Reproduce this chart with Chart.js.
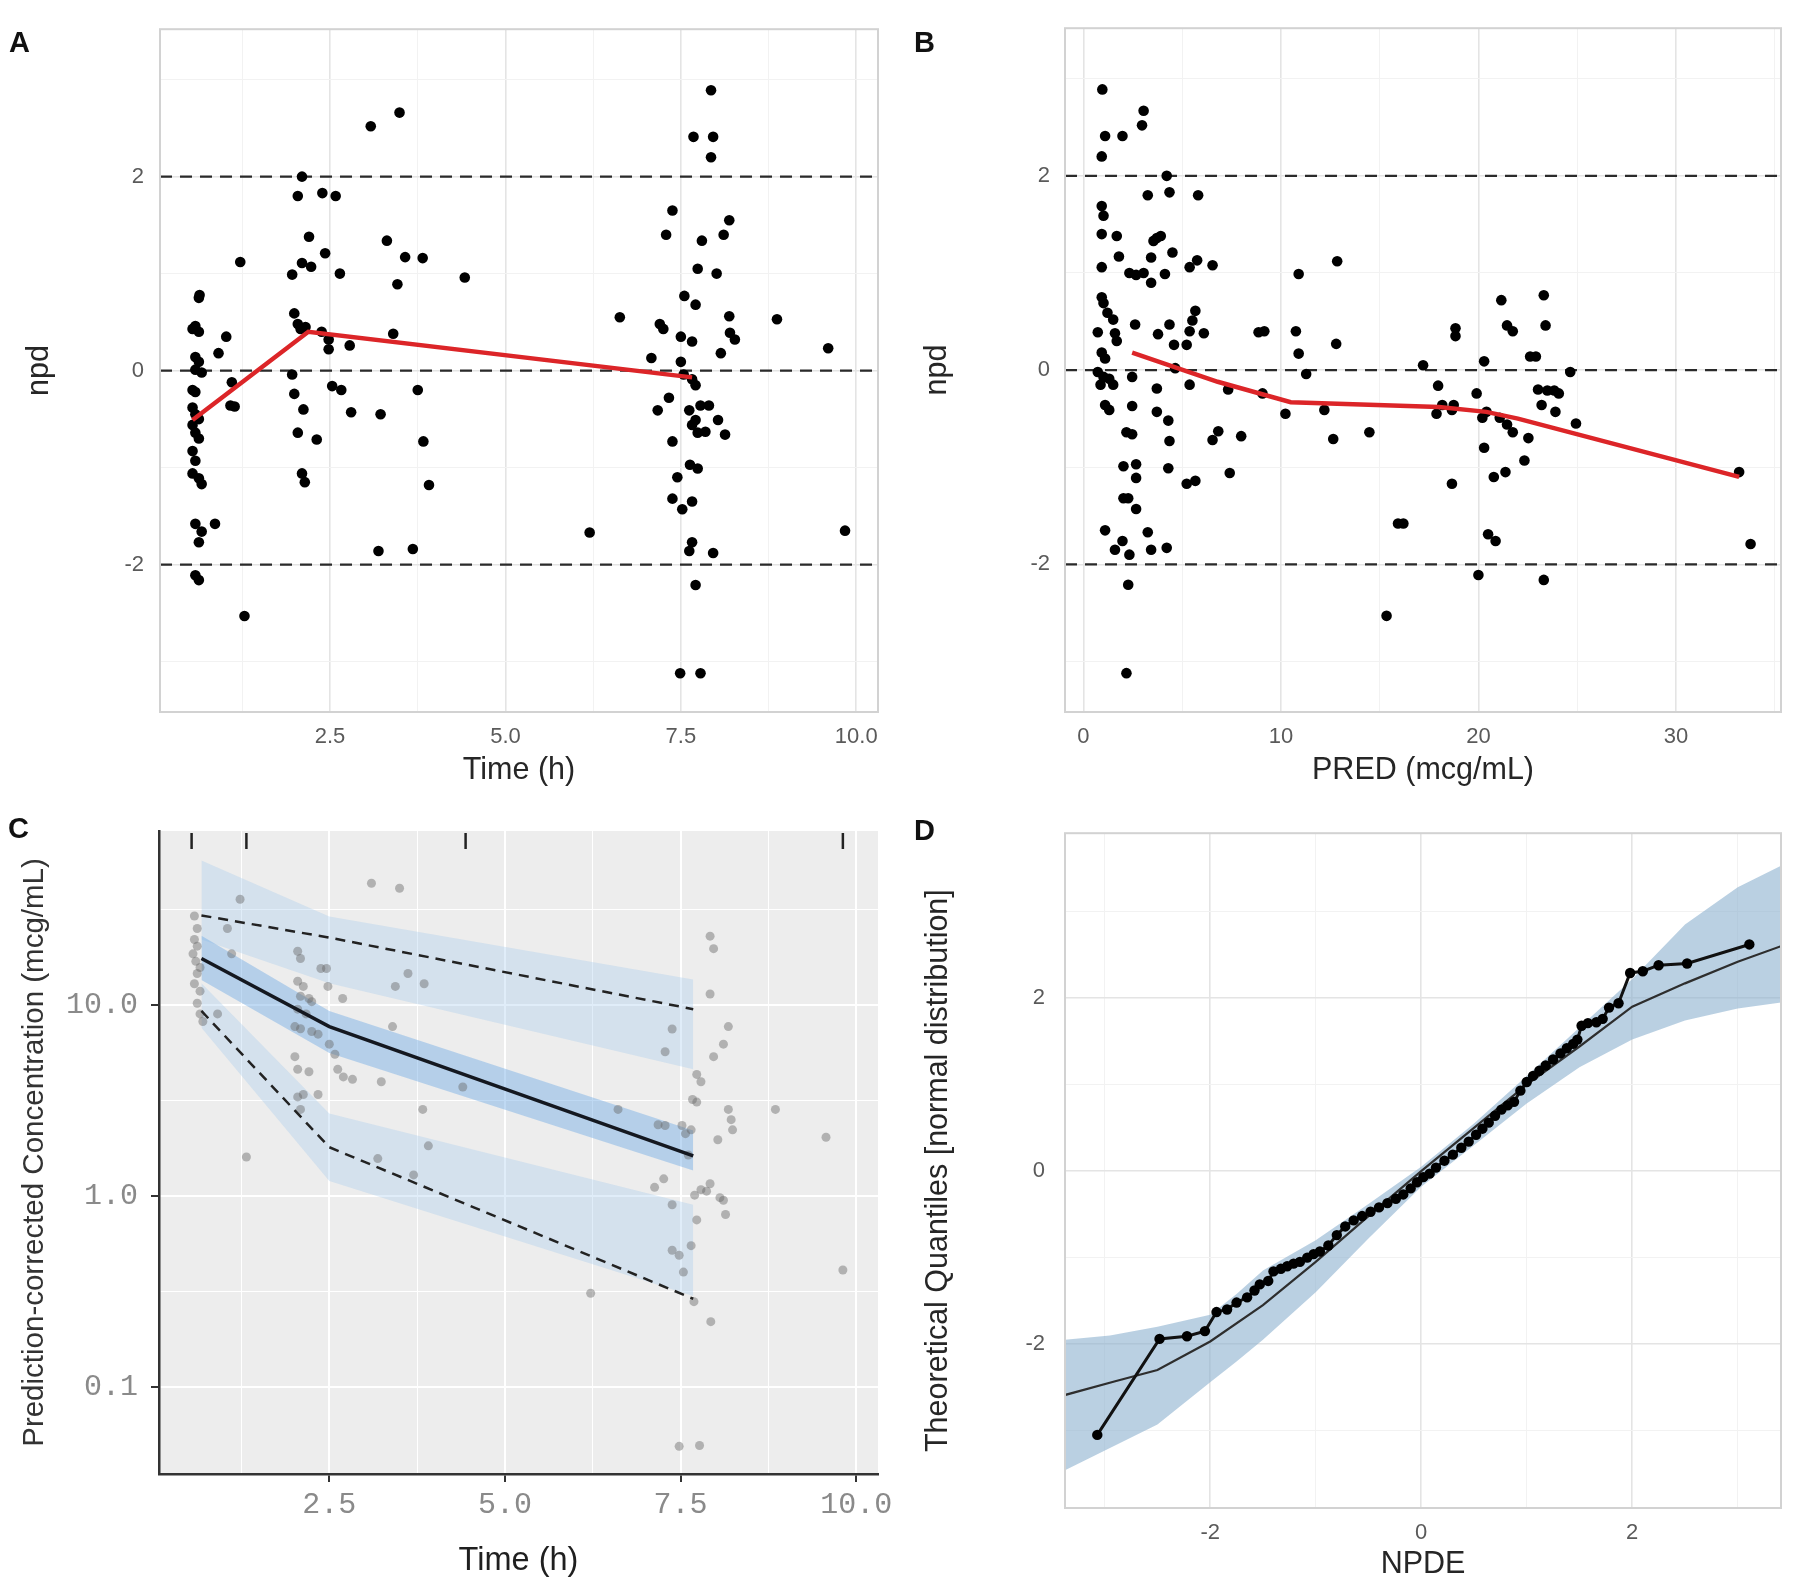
<!DOCTYPE html>
<html>
<head>
<meta charset="utf-8">
<script src="https://cdn.jsdelivr.net/npm/chart.js@4.4.1/dist/chart.umd.min.js"></script>
<style>
  html, body { margin: 0; padding: 0; background: #fff; }
  #page { position: relative; width: 1800px; height: 1596px; overflow: hidden; }
  #page canvas { position: absolute; }
  .tag { position: absolute; font: bold 29px "Liberation Sans", Arial, sans-serif; color: #111; line-height: 29px; }
</style>
</head>
<body>
<div id="page">
  <canvas id="chartA" width="900" height="800" style="left:0;top:0"></canvas>
  <canvas id="chartB" width="900" height="800" style="left:900px;top:0"></canvas>
  <canvas id="chartC" width="900" height="796" style="left:0;top:800px"></canvas>
  <canvas id="chartD" width="900" height="796" style="left:900px;top:800px"></canvas>
  <div class="tag" style="left:9px;top:28px">A</div>
  <div class="tag" style="left:914px;top:28px">B</div>
  <div class="tag" style="left:8px;top:814px">C</div>
  <div class="tag" style="left:914px;top:816px">D</div>
</div>
<script>
// ---- panel A: npd vs time ----
var timeA = [
  0.63,0.64,0.58,0.54,0.63,0.58,0.63,0.58,0.67,0.54,
  0.58,0.54,0.58,0.63,0.54,0.58,0.63,0.54,0.58,0.54,
  0.63,0.67,0.58,0.86,0.67,0.63,0.58,0.63,0.91,1.02,
  1.10,1.08,1.14,1.22,1.28,2.10,2.04,2.39,2.58,2.20,
  2.43,2.10,2.23,1.96,2.64,1.99,2.04,2.08,2.15,2.38,
  2.48,2.48,2.78,1.96,1.99,2.12,2.04,2.31,2.53,2.66,
  2.80,2.10,2.14,3.08,3.49,3.31,3.57,3.82,3.46,3.40,
  3.22,3.75,3.83,3.91,3.19,3.68,4.42,6.20,6.63,7.93,
  7.68,7.96,7.93,7.38,7.29,7.80,8.11,8.19,7.74,8.01,
  7.55,7.71,7.20,7.25,8.19,8.20,8.27,7.50,7.66,8.07,
  8.87,9.60,7.08,7.50,7.54,7.66,7.71,7.33,7.17,7.62,
  7.78,7.90,7.71,7.66,7.74,8.03,8.13,7.85,7.38,7.63,
  7.74,7.45,7.38,7.66,7.52,7.66,7.62,7.96,7.71,7.49,
  7.78,9.84
];
var npdA = [
  0.75,0.78,0.46,0.43,0.40,0.14,0.09,0.01,-0.02,-0.20,
  -0.22,-0.38,-0.45,-0.50,-0.56,-0.64,-0.70,-0.83,-0.93,-1.06,
  -1.11,-1.17,-1.58,-1.58,-1.66,-1.77,-2.11,-2.16,0.18,0.35,
  -0.12,-0.36,-0.37,1.12,-2.53,2.00,1.80,1.83,1.80,1.38,
  1.21,1.11,1.07,0.99,1.00,0.59,0.48,0.43,0.45,0.40,
  0.32,0.22,0.26,-0.04,-0.24,-0.40,-0.64,-0.71,-0.16,-0.20,
  -0.43,-1.06,-1.15,2.52,2.66,1.34,1.17,1.16,0.89,0.38,
  -0.45,-0.20,-0.73,-1.18,-1.86,-1.84,0.96,-1.67,0.55,2.89,
  2.41,2.41,2.20,1.65,1.40,1.34,1.40,1.55,1.05,1.00,
  0.77,0.68,0.48,0.43,0.56,0.39,0.32,0.35,0.30,0.18,
  0.53,0.23,0.13,0.09,-0.04,-0.09,-0.15,-0.28,-0.41,-0.41,
  -0.36,-0.36,-0.51,-0.56,-0.64,-0.51,-0.66,-0.63,-0.73,-0.97,
  -1.01,-1.10,-1.32,-1.35,-1.43,-1.77,-1.86,-1.88,-2.21,-3.12,
  -3.12,-1.65
];
var trendTimeA = [0.54, 2.19, 7.66];
var trendNpdA = [-0.51, 0.40, -0.07];

// ---- panel B: npd vs PRED ----
var predB = [
  0.96,1.10,1.98,0.93,3.05,2.97,4.22,4.36,3.26,5.81,
  0.93,1.02,0.93,1.69,3.72,3.92,3.55,1.80,4.51,5.76,
  6.54,3.43,0.93,2.33,2.67,3.05,4.13,5.38,3.43,10.90,
  12.85,0.93,1.02,1.22,1.51,0.73,1.60,1.69,2.62,3.78,
  4.36,5.67,5.52,5.38,6.10,4.59,5.23,0.93,1.10,0.73,
  1.02,1.31,1.51,1.10,1.31,0.87,2.47,3.72,5.38,4.65,
  7.33,8.87,9.16,9.07,10.76,10.90,11.28,10.23,12.20,12.80,
  12.65,14.48,15.93,16.20,15.35,2.47,2.18,2.47,2.03,2.67,
  2.67,2.03,2.67,2.27,1.10,1.98,1.60,2.33,2.27,2.18,
  3.26,3.43,4.22,3.72,4.30,4.36,4.30,5.23,5.67,6.54,
  6.83,7.99,7.41,17.20,17.96,18.17,17.88,18.75,18.66,18.84,
  18.84,18.66,19.91,20.29,20.20,20.41,20.29,20.49,20.87,20.00,
  20.78,21.37,21.16,21.45,21.74,21.08,21.45,21.74,22.53,22.33,
  22.62,22.91,23.31,23.40,23.02,23.49,23.84,24.07,23.20,23.90,
  24.65,24.94,23.31,33.20,33.78
];
var npdB = [
  2.89,2.41,2.41,2.20,2.67,2.52,2.00,1.83,1.80,1.80,
  1.69,1.59,1.40,1.38,1.36,1.38,1.33,1.17,1.21,1.13,
  1.08,1.16,1.06,1.00,0.98,1.00,0.99,1.06,0.90,0.99,
  1.12,0.75,0.69,0.59,0.52,0.39,0.38,0.30,0.47,0.37,
  0.47,0.61,0.51,0.40,0.38,0.26,0.26,0.18,0.12,-0.02,
  -0.07,-0.09,-0.15,-0.36,-0.41,-0.15,-0.07,-0.19,-0.15,0.02,
  -0.20,0.39,0.40,-0.24,0.40,0.17,-0.04,-0.45,-0.41,0.27,
  -0.71,-0.64,-1.58,-1.58,-2.53,-0.37,-0.64,-0.66,-0.99,-0.97,
  -1.11,-1.32,-1.43,-1.32,-1.65,-1.76,-1.85,-1.90,-2.21,-3.12,
  -1.67,-1.85,-1.83,-0.43,-0.52,-0.73,-1.01,-1.17,-1.14,-0.72,
  -0.63,-0.68,-1.06,0.05,-0.16,-0.36,-0.45,-0.36,-0.41,0.43,
  0.35,-1.17,-0.24,0.09,-0.49,-0.43,-0.80,-1.69,-1.76,-2.11,
  -1.10,-1.05,0.72,0.46,0.40,-0.49,-0.56,-0.64,-0.70,-0.93,
  0.14,0.14,0.77,0.46,-0.20,-0.21,-0.21,-0.24,-0.36,-0.43,
  -0.02,-0.55,-2.16,-1.05,-1.79
];
var trendPredB = [2.47, 6.8, 10.5, 18.0, 20.4, 22.0, 33.2];
var trendNpdB = [0.18, -0.12, -0.33, -0.38, -0.43, -0.50, -1.10];

var refLevels = [-2, 0, 2];
var npdTicks = [-2, 0, 2];
var npdMinor = [-3, -1, 1, 3];
var timeTicks = [2.5, 5.0, 7.5, 10.0];
var timeMinor = [1.25, 3.75, 6.25, 8.75];
var predTicks = [0, 10, 20, 30];
var predMinor = [5, 15, 25, 35];

// ---- panel C: pcVPC ----
var binEdges = [0.54, 1.32, 4.44, 9.81];
var obsTime = [
  0.58,0.62,0.58,0.62,0.56,0.60,0.66,0.62,0.58,0.66,
  0.62,0.66,0.70,0.91,1.05,1.11,1.23,1.32,2.05,2.09,
  2.05,2.13,2.09,2.21,2.05,2.25,2.17,2.01,2.09,2.25,
  2.34,2.01,2.05,2.21,2.05,2.13,2.34,2.09,2.38,2.46,
  2.48,2.50,2.58,2.69,2.62,2.70,2.83,3.24,3.19,3.10,
  3.50,3.44,3.40,3.62,3.85,3.83,3.91,3.70,4.40,6.22,
  6.61,7.18,7.28,7.38,7.28,7.13,7.26,7.38,7.38,7.48,
  7.54,7.52,7.57,7.65,7.61,7.67,7.73,7.79,7.79,7.70,
  7.87,7.92,7.73,7.65,7.69,7.93,7.92,7.97,7.92,8.18,
  8.11,7.97,8.18,8.22,8.24,8.03,8.06,8.11,8.14,8.85,
  9.57,9.81,7.48,7.77,7.73
];
var obsConc = [
  29.2,25.1,22.0,20.3,18.5,16.9,15.7,14.6,12.9,11.8,
  10.2,8.97,8.19,8.97,25.1,18.5,35.7,1.6,19.1,17.5,
  13.3,12.5,11.1,10.8,9.5,10.4,8.97,7.7,7.5,7.26,
  7.03,5.36,4.6,4.47,3.3,3.4,3.4,2.84,15.5,15.5,
  12.5,6.23,5.52,10.8,4.6,4.2,4.08,3.96,1.57,43.3,
  40.8,12.5,7.7,14.6,12.9,2.84,1.83,1.29,3.72,0.31,
  2.84,2.36,2.34,7.48,5.69,1.11,1.23,0.9,0.52,0.49,
  0.40,2.34,2.12,2.22,1.64,3.2,4.33,3.96,1.08,1.01,
  1.06,1.16,0.75,0.55,0.28,0.22,22.9,19.7,11.4,7.7,
  6.23,5.36,2.84,2.51,2.22,1.97,0.98,0.95,0.80,2.84,
  2.03,0.41,0.049,0.0495,3.1
];
var binTime = [0.68, 2.5, 7.68];
var piUpLo = [22, 13, 4.6];
var piUpHi = [57, 29, 13.6];
var piMedLo = [13.5, 5.6, 1.36];
var piMedHi = [23, 9.3, 2.2];
var piLowLo = [7.6, 1.2, 0.3];
var piLowHi = [13, 2.7, 0.9];
var obsP05 = [9.3, 1.8, 0.29];
var obsP50 = [17.5, 7.7, 1.62];
var obsP95 = [29.4, 22.5, 9.5];
var concTicks = [0.1, 1, 10];
var concTickLabels = ['0.1', '1.0', '10.0'];
var concMinor = [0.316, 3.16, 31.6];

// ---- panel D: QQ plot of NPDE ----
var qqNpde = [
  -3.07,-2.48,-2.22,-2.05,-1.94,-1.84,-1.75,-1.65,-1.58,-1.53,
  -1.45,-1.40,-1.33,-1.27,-1.21,-1.15,-1.08,-1.02,-0.96,-0.88,
  -0.80,-0.72,-0.64,-0.56,-0.48,-0.40,-0.32,-0.24,-0.17,-0.10,
  -0.04,0.02,0.08,0.14,0.22,0.30,0.38,0.45,0.52,0.58,
  0.64,0.70,0.76,0.82,0.88,0.94,1.00,1.06,1.12,1.18,
  1.25,1.32,1.38,1.44,1.48,1.52,1.58,1.66,1.72,1.78,
  1.87,1.98,2.10,2.25,2.52,3.11
];
var qqTheo = [
  -3.05,-1.94,-1.91,-1.85,-1.63,-1.60,-1.52,-1.46,-1.38,-1.31,
  -1.27,-1.16,-1.13,-1.10,-1.07,-1.05,-1.00,-0.96,-0.93,-0.86,
  -0.74,-0.64,-0.57,-0.52,-0.47,-0.42,-0.37,-0.32,-0.27,-0.20,
  -0.13,-0.07,-0.03,0.04,0.12,0.19,0.27,0.34,0.42,0.49,
  0.56,0.64,0.71,0.76,0.80,0.93,1.03,1.10,1.16,1.22,
  1.29,1.36,1.42,1.47,1.52,1.68,1.71,1.72,1.76,1.89,
  1.94,2.29,2.31,2.38,2.40,2.62
];
var refNpde = [-3.38,-2.9,-2.5,-2.0,-1.5,-1.0,-0.5,0,0.5,1.0,1.5,2.0,2.5,3.0,3.41];
var refTheo = [-2.59,-2.43,-2.30,-1.97,-1.55,-1.05,-0.52,0,0.5,1.0,1.44,1.90,2.17,2.42,2.60];
var bandNpde = [-3.38,-2.95,-2.5,-2.0,-1.75,-1.5,-1.0,-0.5,0,0.5,1.0,1.5,2.0,2.5,3.0,3.41];
var bandLo = [-3.46,-3.2,-2.93,-2.44,-2.2,-1.95,-1.4,-0.78,-0.18,0.3,0.78,1.2,1.52,1.74,1.88,1.95];
var bandHi = [-1.95,-1.9,-1.8,-1.66,-1.42,-1.15,-0.8,-0.38,0.05,0.55,1.1,1.66,2.22,2.85,3.28,3.53];
var quantTicks = [-2, 0, 2];
var quantMinor = [-3, -1, 1, 3];

var FONT = '"Liberation Sans", Arial, sans-serif';
var MONO = '"Liberation Mono", "DejaVu Sans Mono", monospace';
var RED = '#dc2528';

function zip(xs, ys) {
  return xs.map(function (x, i) { return { x: x, y: ys[i] }; });
}
function idxOf(list, v) {
  for (var i = 0; i < list.length; i++) {
    if (Math.abs(list[i] - v) < 1e-9) return i;
  }
  return -1;
}
function tickBuilder(major, minor) {
  return function (scale) {
    scale.ticks = major.concat(minor)
      .sort(function (a, b) { return a - b; })
      .map(function (v) { return { value: v }; });
  };
}

// light (theme_light-like) axis used in A, B, D
function lightAxis(o) {
  var vertical = o.pos === 'left';
  return {
    type: 'linear', position: o.pos, min: o.min, max: o.max,
    afterBuildTicks: tickBuilder(o.major, o.minor),
    afterFit: function (s) { if (vertical) s.width = o.size; else s.height = o.size; },
    border: { display: false },
    grid: {
      drawTicks: false,
      color: function (c) { return c.tick && idxOf(o.major, c.tick.value) >= 0 ? '#e4e4e4' : '#f2f2f2'; },
      lineWidth: function (c) { return c.tick && idxOf(o.major, c.tick.value) >= 0 ? 1.6 : 1; }
    },
    ticks: {
      autoSkip: false, maxRotation: 0, padding: o.pad, color: '#5a5a5a',
      font: { family: FONT, size: 22 },
      callback: function (v) { return idxOf(o.major, v) >= 0 ? o.fmt(v) : ''; }
    },
    title: {
      display: true, text: o.title, color: '#262626',
      font: { family: FONT, size: 30.5 },
      padding: { top: o.titlePad, bottom: o.titlePad }
    }
  };
}

function baseOptions(padding, scales) {
  return {
    responsive: false, animation: false, devicePixelRatio: 1,
    layout: { padding: padding, autoPadding: false },
    plugins: { legend: { display: false }, tooltip: { enabled: false } },
    scales: scales
  };
}

var panelBox = {
  id: 'panelBox',
  afterDatasetsDraw: function (chart) {
    var a = chart.chartArea, ctx = chart.ctx;
    ctx.save();
    ctx.strokeStyle = '#d2d2d2';
    ctx.lineWidth = 2;
    ctx.strokeRect(a.left, a.top, a.right - a.left, a.bottom - a.top);
    ctx.restore();
  }
};

var refLines = {
  id: 'refLines',
  beforeDatasetsDraw: function (chart) {
    var a = chart.chartArea, ctx = chart.ctx, y = chart.scales.y;
    ctx.save();
    ctx.strokeStyle = '#2a2a2a';
    ctx.lineWidth = 2.4;
    ctx.setLineDash([12, 8]);
    refLevels.forEach(function (v) {
      var py = y.getPixelForValue(v);
      ctx.beginPath();
      ctx.moveTo(a.left, py);
      ctx.lineTo(a.right, py);
      ctx.stroke();
    });
    ctx.restore();
  }
};

var greyPanel = {
  id: 'greyPanel',
  beforeDraw: function (chart) {
    var a = chart.chartArea, ctx = chart.ctx;
    ctx.save();
    ctx.fillStyle = '#ededed';
    ctx.fillRect(a.left, a.top, a.right - a.left, a.bottom - a.top);
    ctx.restore();
  }
};

var rug = {
  id: 'rug',
  afterDatasetsDraw: function (chart) {
    var a = chart.chartArea, ctx = chart.ctx, x = chart.scales.x;
    ctx.save();
    ctx.strokeStyle = '#222';
    ctx.lineWidth = 2.5;
    binEdges.forEach(function (v) {
      var px = x.getPixelForValue(v);
      ctx.beginPath();
      ctx.moveTo(px, a.top + 2);
      ctx.lineTo(px, a.top + 18);
      ctx.stroke();
    });
    ctx.restore();
  }
};

function fmt1(v) { return v.toFixed(1); }
function fmt0(v) { return String(v); }

// ---------- A ----------
new Chart(document.getElementById('chartA'), {
  type: 'scatter',
  data: {
    datasets: [
      { type: 'line', data: zip(trendTimeA, trendNpdA), borderColor: RED, borderWidth: 4.5, pointRadius: 0, fill: false },
      { data: zip(timeA, npdA), backgroundColor: '#000', borderWidth: 0, pointRadius: 5.3 }
    ]
  },
  options: baseOptions({ left: 0, top: 25, right: 22, bottom: 0 }, {
    x: lightAxis({ pos: 'bottom', min: 0.076, max: 10.31, major: timeTicks, minor: timeMinor, fmt: fmt1,
      size: 88, pad: 12, title: 'Time (h)', titlePad: 10.7 }),
    y: lightAxis({ pos: 'left', min: -3.52, max: 3.52, major: npdTicks, minor: npdMinor, fmt: fmt0,
      size: 160, pad: 16, title: 'npd', titlePad: 21.7 })
  }),
  plugins: [refLines, panelBox]
});

// ---------- B ----------
new Chart(document.getElementById('chartB'), {
  type: 'scatter',
  data: {
    datasets: [
      { type: 'line', data: zip(trendPredB, trendNpdB), borderColor: RED, borderWidth: 4.5, pointRadius: 0, fill: false },
      { data: zip(predB, npdB), backgroundColor: '#000', borderWidth: 0, pointRadius: 5.3 }
    ]
  },
  options: baseOptions({ left: 0, top: 25, right: 19, bottom: 0 }, {
    x: lightAxis({ pos: 'bottom', min: -0.93, max: 35.32, major: predTicks, minor: predMinor, fmt: fmt0,
      size: 88, pad: 12, title: 'PRED (mcg/mL)', titlePad: 10.7 }),
    y: lightAxis({ pos: 'left', min: -3.52, max: 3.52, major: npdTicks, minor: npdMinor, fmt: fmt0,
      size: 165, pad: 15, title: 'npd', titlePad: 19.7 })
  }),
  plugins: [refLines, panelBox]
});

// ---------- C ----------
var OUTER_BAND = 'rgba(160,200,236,0.32)';
var MED_BAND = 'rgba(120,175,230,0.47)';
function band(xs, ys, color) {
  return {
    type: 'line', data: zip(xs, ys), borderWidth: 0, borderColor: 'rgba(0,0,0,0)',
    pointRadius: 0, backgroundColor: color || 'rgba(0,0,0,0)', fill: color ? '+1' : false
  };
}
function classicAxis(o) {
  var vertical = o.pos === 'left';
  return {
    type: o.type, position: o.pos, min: o.min, max: o.max,
    afterBuildTicks: tickBuilder(o.major, o.minor),
    afterFit: function (s) { if (vertical) s.width = o.size; else s.height = o.size; },
    border: { display: true, color: '#333', width: 2.5 },
    grid: {
      color: '#ffffff',
      lineWidth: function (c) { return c.tick && idxOf(o.major, c.tick.value) >= 0 ? 2 : 1; },
      drawTicks: true, tickLength: 8, tickWidth: 2,
      tickColor: function (c) { return c.tick && idxOf(o.major, c.tick.value) >= 0 ? '#333' : 'rgba(0,0,0,0)'; }
    },
    ticks: {
      autoSkip: false, maxRotation: 0, padding: o.pad, color: '#8a8a8a',
      font: { family: MONO, size: 30 },
      callback: o.label
    },
    title: {
      display: true, text: o.title, color: o.titleColor,
      font: { family: FONT, size: o.titleSize },
      padding: { top: o.titlePad, bottom: o.titlePad }
    }
  };
}

new Chart(document.getElementById('chartC'), {
  type: 'scatter',
  data: {
    datasets: [
      { type: 'line', data: zip(binTime, obsP50), borderColor: '#141820', borderWidth: 3.5, pointRadius: 0, fill: false },
      { type: 'line', data: zip(binTime, obsP95), borderColor: '#222', borderWidth: 2.5, borderDash: [10, 7], pointRadius: 0, fill: false },
      { type: 'line', data: zip(binTime, obsP05), borderColor: '#222', borderWidth: 2.5, borderDash: [10, 7], pointRadius: 0, fill: false },
      { data: zip(obsTime, obsConc), backgroundColor: 'rgba(105,105,105,0.45)', borderWidth: 0, pointRadius: 4.5 },
      band(binTime, piMedHi, MED_BAND),
      band(binTime, piMedLo),
      band(binTime, piUpHi, OUTER_BAND),
      band(binTime, piUpLo),
      band(binTime, piLowHi, OUTER_BAND),
      band(binTime, piLowLo)
    ]
  },
  options: baseOptions({ left: 0, top: 23, right: 22, bottom: 0 }, {
    x: classicAxis({ type: 'linear', pos: 'bottom', min: 0.076, max: 10.31, major: timeTicks, minor: timeMinor,
      size: 122, pad: 5, title: 'Time (h)', titleSize: 32.5, titleColor: '#1f1f1f', titlePad: 15.5,
      label: function (v) { return idxOf(timeTicks, v) >= 0 ? v.toFixed(1) : ''; } }),
    y: classicAxis({ type: 'logarithmic', pos: 'left', min: 0.0351, max: 81.3, major: concTicks, minor: concMinor,
      size: 159, pad: 13, title: 'Prediction-corrected Concentration (mcg/mL)', titleSize: 29.5, titleColor: '#333', titlePad: 17.3,
      label: function (v) { var i = idxOf(concTicks, v); return i >= 0 ? concTickLabels[i] : ''; } })
  }),
  plugins: [greyPanel, rug]
});

// ---------- D ----------
new Chart(document.getElementById('chartD'), {
  type: 'scatter',
  data: {
    datasets: [
      { type: 'line', data: zip(qqNpde, qqTheo), borderColor: '#111', borderWidth: 3,
        pointRadius: 5.2, pointBackgroundColor: '#000', pointBorderWidth: 0, fill: false },
      { type: 'line', data: zip(refNpde, refTheo), borderColor: '#2e2e2e', borderWidth: 2.2, pointRadius: 0, fill: false },
      band(bandNpde, bandHi, 'rgba(140,176,206,0.6)'),
      band(bandNpde, bandLo)
    ]
  },
  options: baseOptions({ left: 0, top: 20, right: 19, bottom: 0 }, {
    x: lightAxis({ pos: 'bottom', min: -3.376, max: 3.41, major: quantTicks, minor: quantMinor, fmt: fmt0,
      size: 88, pad: 12, title: 'NPDE', titlePad: 12.7 }),
    y: lightAxis({ pos: 'left', min: -3.895, max: 3.906, major: quantTicks, minor: quantMinor, fmt: fmt0,
      size: 165, pad: 20, title: 'Theoretical Quantiles [normal distribution]', titlePad: 20.7 })
  }),
  plugins: [panelBox]
});
</script>
</body>
</html>
